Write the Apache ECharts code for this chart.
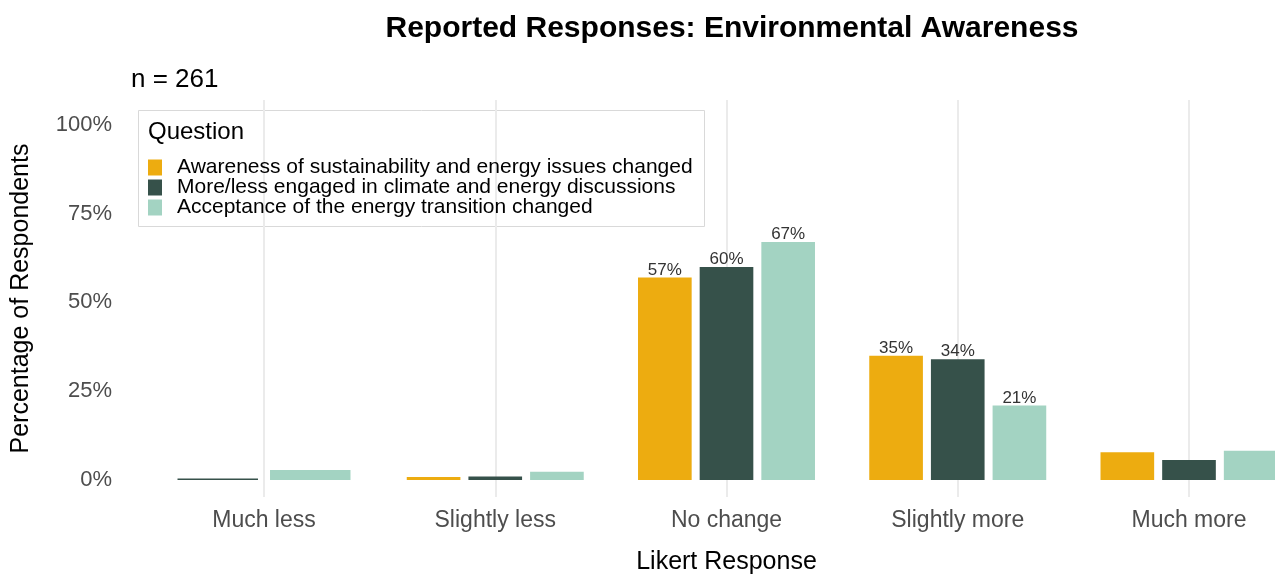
<!DOCTYPE html>
<html>
<head>
<meta charset="utf-8">
<script src="https://cdn.jsdelivr.net/npm/echarts@6/dist/echarts.min.js"></script>
<style>html,body{margin:0;padding:0;background:#fff}#c{width:1275px;height:576px}</style>
</head>
<body>
<div id="c"></div>
<script>
const categories = ['Much less', 'Slightly less', 'No change', 'Slightly more', 'Much more'];
const seriesNames = [
  'Awareness of sustainability and energy issues changed',
  'More/less engaged in climate and energy discussions',
  'Acceptance of the energy transition changed'
];
const awareness = [null, 0.8, 57, 35, 7.8];
const engaged = [0.4, 1.0, 60, 34, 5.6];
const acceptance = [2.8, 2.3, 67, 21, 8.2];
const yTicks = [0, 25, 50, 75, 100];
const labelThreshold = 10;

const values = [awareness, engaged, acceptance];
const colors = ['#EDAC10', '#36514A', '#A3D3C2'];
const FONT = '"Liberation Sans", Arial, Helvetica, sans-serif';

const chart = echarts.init(document.getElementById('c'));

function makeRender(sIdx) {
  return function (params, api) {
    const i = api.value(0);
    const v = api.value(1);
    if (v == null || isNaN(v)) return;
    const present = [];
    values.forEach((arr, k) => { if (arr[i] != null) present.push(k); });
    const n = present.length;
    const k = present.indexOf(sIdx);
    const band = api.size([1, 0])[0];
    const W = 0.8 * band, p = 0.13;
    const slot = W / n;
    const bw = slot * (1 - p);
    const base = api.coord([i, 0]);
    const top = api.coord([i, v]);
    const cx = base[0] - W / 2 + slot * (k + 0.5);
    const children = [{
      type: 'rect',
      shape: { x: cx - bw / 2, y: top[1], width: bw, height: base[1] - top[1] },
      style: { fill: colors[sIdx] }
    }];
    if (v >= labelThreshold) {
      children.push({
        type: 'text',
        style: {
          x: cx, y: top[1] + 1, text: Math.round(v) + '%',
          align: 'center', verticalAlign: 'bottom',
          font: '17px ' + FONT, fill: '#333333'
        }
      });
    }
    return { type: 'group', children };
  };
}

const option = {
  backgroundColor: '#ffffff',
  animation: false,
  title: [
    {
      text: 'Reported Responses: Environmental Awareness',
      left: 727, top: 9, textAlign: 'center',
      textStyle: { fontFamily: FONT, fontSize: 30, fontWeight: 'bold', color: '#000' }
    },
    {
      text: 'n = 261',
      left: 126, top: 62,
      textStyle: { fontFamily: FONT, fontSize: 26, fontWeight: 'normal', color: '#000' }
    }
  ],
  grid: { left: 264, right: 86, top: 100, bottom: 79, containLabel: false, outerBoundsMode: 'none' },
  xAxis: {
    type: 'value', min: 0, max: 4, interval: 1,
    name: 'Likert Response', nameLocation: 'middle', nameGap: 53,
    nameTextStyle: { fontFamily: FONT, fontSize: 25, color: '#000' },
    axisLine: { show: false }, axisTick: { show: false },
    axisLabel: {
      margin: 12, fontFamily: FONT, fontSize: 23, color: '#4D4D4D',
      formatter: v => categories[v] || ''
    },
    splitLine: { show: true, lineStyle: { color: '#EBEBEB', width: 2 } }
  },
  yAxis: {
    type: 'value', min: -4.8, max: 107,
    name: 'Percentage of Respondents', nameLocation: 'middle', nameGap: 230,
    nameTextStyle: { fontFamily: FONT, fontSize: 25, color: '#000' },
    axisLine: { show: false }, axisTick: { show: false },
    axisLabel: {
      customValues: yTicks, margin: 152, fontFamily: FONT, fontSize: 22, color: '#4D4D4D',
      padding: [4, 0, 0, 0],
      formatter: v => v + '%'
    },
    splitLine: { show: false }
  },
  legend: {
    orient: 'vertical', left: 148, top: 157, itemGap: -1,
    itemWidth: 14, itemHeight: 16, icon: 'rect', padding: 0,
    selectedMode: false,
    textStyle: { fontFamily: FONT, fontSize: 21, color: '#000', padding: [1, 0, 0, 10] },
    data: seriesNames
  },
  graphic: [
    {
      type: 'rect', left: 138, top: 110, z: -1,
      shape: { width: 566, height: 116 },
      style: { fill: '#fff', stroke: '#D9D9D9', lineWidth: 1 }
    },
    {
      type: 'text', left: 148, top: 120,
      style: { text: 'Question', font: '24px ' + FONT, fill: '#000' }
    }
  ],
  series: values.map((arr, s) => ({
    type: 'custom',
    name: seriesNames[s],
    itemStyle: { color: colors[s] },
    renderItem: makeRender(s),
    clip: false,
    encode: { x: 0, y: 1 },
    data: arr.map((v, i) => [i, v])
  }))
};
chart.setOption(option);
</script>
</body>
</html>
